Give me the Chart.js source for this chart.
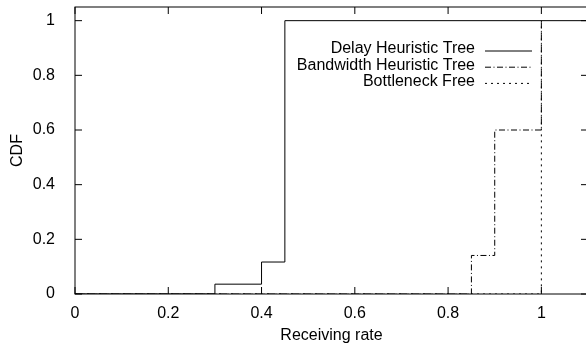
<!DOCTYPE html>
<html>
<head>
<meta charset="utf-8">
<script src="https://cdn.jsdelivr.net/npm/chart.js@4"></script>
<style>
  html, body { margin: 0; padding: 0; background: #fff; overflow: hidden; }
  #wrap { width: 586px; height: 345px; overflow: hidden; }
</style>
</head>
<body>
<div id="wrap"><canvas id="cdfChart" width="600" height="345"></canvas></div>
<script>
// Data (step CDFs)
const seriesNames = ['Delay Heuristic Tree', 'Bandwidth Heuristic Tree', 'Bottleneck Free'];
const delayX = [0, 0.3, 0.4, 0.45, 1.2];
const delayY = [0, 0.036, 0.117, 1, 1];
const bandwidthX = [0, 0.85, 0.9, 1.0];
const bandwidthY = [0, 0.141, 0.6, 1];
const freeX = [0, 1.0];
const freeY = [0, 1];

const xTicks = [0, 0.2, 0.4, 0.6, 0.8, 1];
const yTicks = [0, 0.2, 0.4, 0.6, 0.8, 1];

const FONT = '"Liberation Sans", Arial, Helvetica, sans-serif';

const toPoints = (xs, ys) => xs.map((x, i) => ({ x: x, y: ys[i] }));

// gnuplot-like frame with inward ticks on all four sides
const framePlugin = {
    id: 'frame',
    afterDatasetsDraw(chart) {
        const { ctx, chartArea: a, scales: { x, y } } = chart;
        ctx.save();
        ctx.strokeStyle = '#000';
        ctx.lineWidth = 1;
        ctx.setLineDash([]);
        ctx.strokeRect(a.left, a.top, a.right - a.left, a.bottom - a.top);
        ctx.beginPath();
        x.ticks.forEach(t => {
            const px = x.getPixelForValue(t.value);
            ctx.moveTo(px, a.bottom); ctx.lineTo(px, a.bottom - 7);
            ctx.moveTo(px, a.top); ctx.lineTo(px, a.top + 7);
        });
        y.ticks.forEach(t => {
            const py = y.getPixelForValue(t.value);
            ctx.moveTo(a.left, py); ctx.lineTo(a.left + 7, py);
            ctx.moveTo(a.right, py); ctx.lineTo(a.right - 7, py);
        });
        ctx.stroke();
        ctx.restore();
    }
};

// key drawn gnuplot style: right-aligned text, line sample to the right
const keyPlugin = {
    id: 'key',
    afterDraw(chart) {
        const ctx = chart.ctx;
        ctx.save();
        ctx.font = '16px ' + FONT;
        ctx.textAlign = 'right';
        ctx.textBaseline = 'middle';
        chart.data.datasets.forEach((ds, i) => {
            const yy = 49 + i * 16.2;
            ctx.fillStyle = '#000';
            ctx.fillText(ds.label, 475, yy);
            ctx.strokeStyle = ds.borderColor;
            ctx.lineWidth = 1;
            ctx.setLineDash(ds.borderDash || []);
            ctx.beginPath();
            ctx.moveTo(485, yy + 2);
            ctx.lineTo(532, yy + 2);
            ctx.stroke();
        });
        ctx.restore();
    }
};

new Chart(document.getElementById('cdfChart'), {
    type: 'line',
    data: {
        datasets: [
            { label: seriesNames[0], data: toPoints(delayX, delayY), borderColor: '#000', borderWidth: 1, borderDash: [], stepped: 'before' },
            { label: seriesNames[1], data: toPoints(bandwidthX, bandwidthY), borderColor: '#000', borderWidth: 1, borderDash: [6, 2.5, 1, 2.5], stepped: 'before' },
            { label: seriesNames[2], data: toPoints(freeX, freeY), borderColor: '#000', borderWidth: 1, borderDash: [2, 4], stepped: 'before' }
        ]
    },
    options: {
        responsive: false,
        animation: false,
        layout: { padding: { top: 7, right: 12, left: 0, bottom: 0 } },
        elements: { point: { radius: 0 }, line: { tension: 0, fill: false } },
        plugins: { legend: { display: false }, tooltip: { enabled: false } },
        scales: {
            x: {
                type: 'linear', min: 0, max: 1.1,
                afterBuildTicks: s => { s.ticks = xTicks.map(v => ({ value: v })); },
                afterFit: s => { s.height = 51; s.paddingLeft = 0; s.paddingRight = 0; },
                grid: { display: false },
                border: { display: false },
                ticks: { color: '#000', font: { family: FONT, size: 16 }, padding: 2, maxRotation: 0,
                         callback: v => String(v) },
                title: { display: true, text: 'Receiving rate', color: '#000', font: { family: FONT, size: 16 }, padding: { top: -6.5, bottom: 0 } }
            },
            y: {
                type: 'linear', min: 0, max: 1.05,
                afterBuildTicks: s => { s.ticks = yTicks.map(v => ({ value: v })); },
                afterFit: s => { s.width = 75; s.paddingTop = 0; s.paddingBottom = 0; },
                grid: { display: false },
                border: { display: false },
                ticks: { color: '#000', font: { family: FONT, size: 16 }, padding: 12,
                         callback: v => String(v) },
                title: { display: true, text: 'CDF', color: '#000', font: { family: FONT, size: 16 }, padding: { top: 7.5, bottom: 0 } }
            }
        }
    },
    plugins: [framePlugin, keyPlugin]
});
</script>
</body>
</html>
